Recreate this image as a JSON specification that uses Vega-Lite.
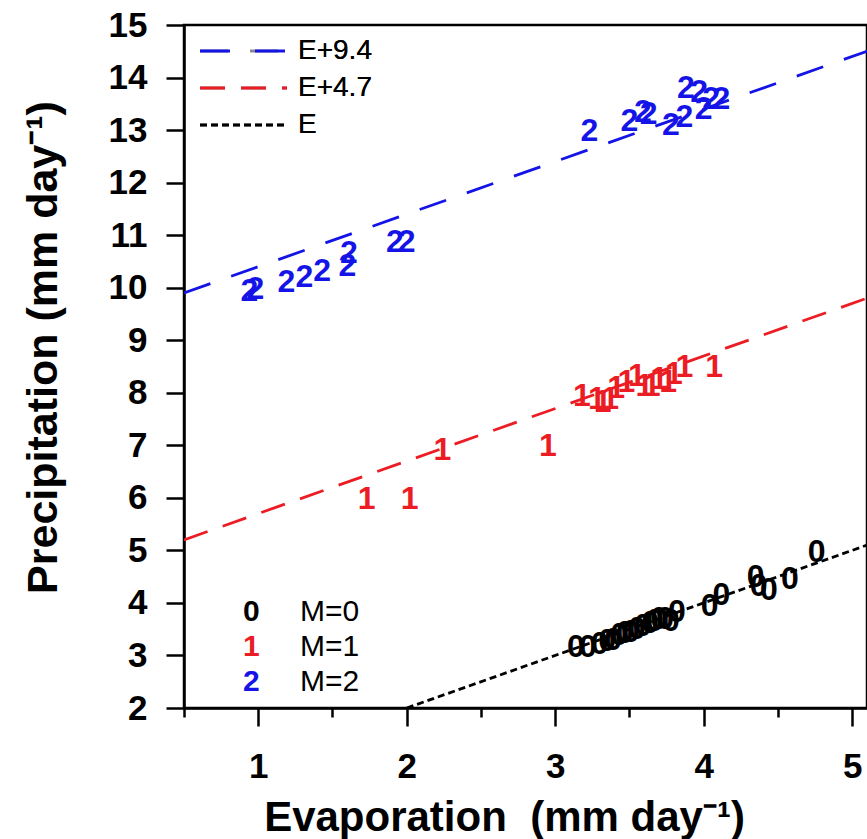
{
  "$schema": "https://vega.github.io/schema/vega-lite/v6.json",
  "autosize": "none",
  "padding": {"left": 184, "top": 25, "right": 0, "bottom": 131},
  "width": 683,
  "height": 683,
  "background": "white",
  "config": {
    "font": "Liberation Sans",
    "view": {"stroke": "black", "strokeWidth": 2.5},
    "axis": {
      "grid": false,
      "domainColor": "black",
      "domainWidth": 2.5,
      "tickColor": "black",
      "tickWidth": 2.5,
      "labelColor": "black",
      "titleColor": "black",
      "labelFont": "Liberation Sans",
      "titleFont": "Liberation Sans",
      "labelFontWeight": "bold",
      "labelFontSize": 35,
      "titleFontSize": 42,
      "titleFontWeight": "bold",
      "labelFlush": false,
      "labelOverlap": false
    },
    "legend": {
      "labelFont": "Liberation Sans",
      "labelColor": "black",
      "labelFontSize": 30,
      "padding": 0,
      "title": null
    }
  },
  "datasets": {
    "fits": [
      {"fit": "E+9.4", "E": 0.5, "P": 9.9},
      {"fit": "E+9.4", "E": 5.1, "P": 14.5},
      {"fit": "E+4.7", "E": 0.5, "P": 5.2},
      {"fit": "E+4.7", "E": 5.1, "P": 9.8},
      {"fit": "E", "E": 2.0, "P": 2.0},
      {"fit": "E", "E": 5.1, "P": 5.1}
    ],
    "points": [
      {"M": "2", "Mlabel": "M=2", "E": 0.94, "P": 9.93},
      {"M": "2", "Mlabel": "M=2", "E": 0.98, "P": 9.97},
      {"M": "2", "Mlabel": "M=2", "E": 1.19, "P": 10.10},
      {"M": "2", "Mlabel": "M=2", "E": 1.31, "P": 10.20},
      {"M": "2", "Mlabel": "M=2", "E": 1.43, "P": 10.31},
      {"M": "2", "Mlabel": "M=2", "E": 1.61, "P": 10.66},
      {"M": "2", "Mlabel": "M=2", "E": 1.60, "P": 10.41},
      {"M": "2", "Mlabel": "M=2", "E": 1.92, "P": 10.87},
      {"M": "2", "Mlabel": "M=2", "E": 2.00, "P": 10.87},
      {"M": "2", "Mlabel": "M=2", "E": 3.23, "P": 12.98},
      {"M": "2", "Mlabel": "M=2", "E": 3.50, "P": 13.17},
      {"M": "2", "Mlabel": "M=2", "E": 3.59, "P": 13.34},
      {"M": "2", "Mlabel": "M=2", "E": 3.63, "P": 13.30},
      {"M": "2", "Mlabel": "M=2", "E": 3.78, "P": 13.10},
      {"M": "2", "Mlabel": "M=2", "E": 3.87, "P": 13.25},
      {"M": "2", "Mlabel": "M=2", "E": 3.88, "P": 13.80},
      {"M": "2", "Mlabel": "M=2", "E": 3.97, "P": 13.72},
      {"M": "2", "Mlabel": "M=2", "E": 4.00, "P": 13.40},
      {"M": "2", "Mlabel": "M=2", "E": 4.05, "P": 13.59},
      {"M": "2", "Mlabel": "M=2", "E": 4.12, "P": 13.59},
      {"M": "1", "Mlabel": "M=1", "E": 1.73, "P": 5.97},
      {"M": "1", "Mlabel": "M=1", "E": 2.02, "P": 5.97},
      {"M": "1", "Mlabel": "M=1", "E": 2.24, "P": 6.92},
      {"M": "1", "Mlabel": "M=1", "E": 2.95, "P": 6.98},
      {"M": "1", "Mlabel": "M=1", "E": 3.18, "P": 7.93},
      {"M": "1", "Mlabel": "M=1", "E": 3.28, "P": 7.88},
      {"M": "1", "Mlabel": "M=1", "E": 3.32, "P": 7.82},
      {"M": "1", "Mlabel": "M=1", "E": 3.37, "P": 7.88},
      {"M": "1", "Mlabel": "M=1", "E": 3.41, "P": 8.10},
      {"M": "1", "Mlabel": "M=1", "E": 3.48, "P": 8.20},
      {"M": "1", "Mlabel": "M=1", "E": 3.55, "P": 8.31},
      {"M": "1", "Mlabel": "M=1", "E": 3.60, "P": 8.12},
      {"M": "1", "Mlabel": "M=1", "E": 3.65, "P": 8.12},
      {"M": "1", "Mlabel": "M=1", "E": 3.70, "P": 8.26},
      {"M": "1", "Mlabel": "M=1", "E": 3.76, "P": 8.20},
      {"M": "1", "Mlabel": "M=1", "E": 3.80, "P": 8.35},
      {"M": "1", "Mlabel": "M=1", "E": 3.87, "P": 8.49},
      {"M": "1", "Mlabel": "M=1", "E": 4.07, "P": 8.50},
      {"M": "0", "Mlabel": "M=0", "E": 3.14, "P": 3.17},
      {"M": "0", "Mlabel": "M=0", "E": 3.22, "P": 3.17},
      {"M": "0", "Mlabel": "M=0", "E": 3.30, "P": 3.21},
      {"M": "0", "Mlabel": "M=0", "E": 3.35, "P": 3.27},
      {"M": "0", "Mlabel": "M=0", "E": 3.39, "P": 3.30},
      {"M": "0", "Mlabel": "M=0", "E": 3.43, "P": 3.38},
      {"M": "0", "Mlabel": "M=0", "E": 3.47, "P": 3.42},
      {"M": "0", "Mlabel": "M=0", "E": 3.51, "P": 3.44},
      {"M": "0", "Mlabel": "M=0", "E": 3.55, "P": 3.51},
      {"M": "0", "Mlabel": "M=0", "E": 3.59, "P": 3.57},
      {"M": "0", "Mlabel": "M=0", "E": 3.64, "P": 3.61},
      {"M": "0", "Mlabel": "M=0", "E": 3.67, "P": 3.65},
      {"M": "0", "Mlabel": "M=0", "E": 3.70, "P": 3.69},
      {"M": "0", "Mlabel": "M=0", "E": 3.74, "P": 3.69},
      {"M": "0", "Mlabel": "M=0", "E": 3.78, "P": 3.65},
      {"M": "0", "Mlabel": "M=0", "E": 3.82, "P": 3.82},
      {"M": "0", "Mlabel": "M=0", "E": 4.04, "P": 3.95},
      {"M": "0", "Mlabel": "M=0", "E": 4.12, "P": 4.16},
      {"M": "0", "Mlabel": "M=0", "E": 4.35, "P": 4.49},
      {"M": "0", "Mlabel": "M=0", "E": 4.37, "P": 4.33},
      {"M": "0", "Mlabel": "M=0", "E": 4.44, "P": 4.24},
      {"M": "0", "Mlabel": "M=0", "E": 4.58, "P": 4.45},
      {"M": "0", "Mlabel": "M=0", "E": 4.76, "P": 4.96}
    ]
  },
  "layer": [
    {
      "data": {"name": "fits"},
      "mark": {"type": "line", "strokeWidth": 2.8, "clip": true},
      "encoding": {
        "x": {
          "field": "E", "type": "quantitative",
          "scale": {"domain": [0.5, 5.1], "nice": false, "zero": false},
          "axis": {
            "values": [0.5, 1, 1.5, 2, 2.5, 3, 3.5, 4, 4.5, 5],
            "labelExpr": "datum.value % 1 === 0 ? format(datum.value, 'd') : ''",
            "tickSize": {"condition": {"test": "datum.value % 1 !== 0", "value": 9}, "value": 18},
            "labelPadding": 23,
            "title": "Evaporation\u00a0 (mm day⁻¹)",
            "titleX": 320,
            "titleY": 122,
            "titleBaseline": "alphabetic",
            "titleAlign": "center"
          }
        },
        "y": {
          "field": "P", "type": "quantitative",
          "scale": {"domain": [2, 15], "nice": false, "zero": false},
          "axis": {
            "values": [2, 2.5, 3, 3.5, 4, 4.5, 5, 5.5, 6, 6.5, 7, 7.5, 8, 8.5, 9, 9.5, 10, 10.5, 11, 11.5, 12, 12.5, 13, 13.5, 14, 14.5, 15],
            "labelExpr": "datum.value % 1 === 0 ? format(datum.value, 'd') : ''",
            "tickSize": {"condition": {"test": "datum.value % 1 !== 0", "value": 9}, "value": 18},
            "labelPadding": 19,
            "title": "Precipitation (mm day⁻¹)",
            "titleFontSize": 43,
            "titleX": -128,
            "titleY": 322,
            "titleAngle": -90,
            "titleBaseline": "alphabetic",
            "titleAlign": "center"
          }
        },
        "color": {
          "field": "fit", "type": "nominal",
          "scale": {"domain": ["E+9.4", "E+4.7", "E"], "range": ["#1414e6", "#ec1c24", "#000000"]},
          "legend": {
            "orient": "none", "legendX": 14.5, "legendY": 13.5,
            "symbolType": "stroke", "symbolSize": 7569, "symbolStrokeWidth": 2.8,
            "clipHeight": 25, "rowPadding": 8, "labelOffset": 9.5,
            "labelFontSize": 28,
            "encode": {"symbols": {"update": {"strokeDash": {"signal": "datum.value === 'E+9.4' ? [30, 25] : datum.value === 'E+4.7' ? [25, 16] : [7, 4]"}}}}
          }
        },
        "strokeDash": {
          "field": "fit", "type": "nominal",
          "scale": {"domain": ["E+9.4", "E+4.7", "E"], "range": [[28, 22], [25, 16], [7, 4]]},
          "legend": {
            "orient": "none", "legendX": 14.5, "legendY": 13.5,
            "symbolType": "stroke", "symbolSize": 7569, "symbolStrokeWidth": 2.8,
            "clipHeight": 25, "rowPadding": 8, "labelOffset": 9.5,
            "labelFontSize": 28,
            "encode": {"symbols": {"update": {"strokeDash": {"signal": "datum.value === 'E+9.4' ? [30, 25] : datum.value === 'E+4.7' ? [25, 16] : [7, 4]"}}}}
          }
        }
      }
    },
    {
      "data": {"name": "points"},
      "mark": {"type": "text", "fontSize": 32, "fontWeight": "bold", "font": "Liberation Sans"},
      "encoding": {
        "x": {"field": "E", "type": "quantitative"},
        "y": {"field": "P", "type": "quantitative"},
        "text": {"field": "M"},
        "color": {
          "field": "M", "type": "nominal",
          "scale": {"domain": ["0", "1", "2"], "range": ["#000000", "#ec1c24", "#1414e6"]},
          "legend": {
            "orient": "none", "legendX": 29, "legendY": 571.5,
            "symbolSize": 0, "symbolStrokeWidth": 0, "symbolOpacity": 0,
            "rowPadding": 5, "labelOffset": 0, "labelFontSize": 30, "labelFontWeight": "bold",
            "encode": {"labels": {"update": {"fill": {"signal": "datum.value === '1' ? '#ec1c24' : datum.value === '2' ? '#1414e6' : '#000000'"}}}}
          }
        },
        "opacity": {
          "field": "Mlabel", "type": "ordinal",
          "scale": {"domain": ["M=0", "M=1", "M=2"], "range": [1, 1]},
          "legend": {
            "orient": "none", "legendX": 86, "legendY": 571.5,
            "symbolSize": 0, "symbolStrokeWidth": 0, "symbolOpacity": 0,
            "symbolFillColor": "transparent", "symbolStrokeColor": "transparent",
            "rowPadding": 5, "labelOffset": 0, "labelFontSize": 30
          }
        }
      }
    }
  ],
  "resolve": {"scale": {"color": "independent"}}
}
